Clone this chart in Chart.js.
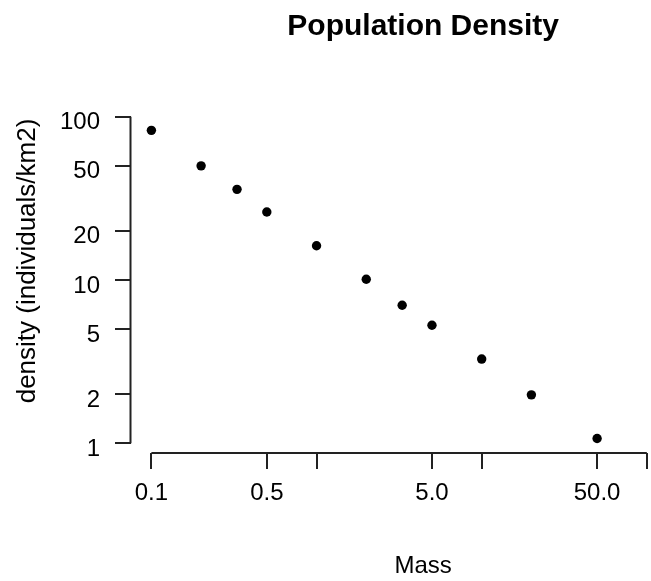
<!DOCTYPE html>
<html>
<head>
<meta charset="utf-8">
<script src="https://cdn.jsdelivr.net/npm/chart.js@4"></script>
<style>
  html, body { margin: 0; padding: 0; background: #fff; overflow: hidden; }
</style>
</head>
<body>
<canvas id="densityChart" width="720" height="581"></canvas>
<script>
// values (log-log)
let mass = [0.1, 0.2, 0.33, 0.5, 1, 2, 3.3, 5, 10, 20, 50];
let density = [82.5, 50, 35.9, 26.1, 16.2, 10.1, 7.0, 5.28, 3.28, 1.98, 1.07];

// axis ticks; only some x ticks get a label (R drops the ones that overlap)
let xTicks = [0.1, 0.5, 1, 5, 10, 50, 100];
let xTickLabels = ['0.1', '0.5', '', '5.0', '', '50.0', ''];
let yTicks = [1, 2, 5, 10, 20, 50, 100];
let yTickLabels = ['1', '2', '5', '10', '20', '50', '100'];

let points = mass.map(function(m, i) {
    return { x: m, y: density[i] };
});

// R style axes: a line only from the first to the last tick
let axisLines = {
    id: 'axisLines',
    afterDraw: function(chart) {
        let ctx = chart.ctx;
        let area = chart.chartArea;
        let x = chart.scales.x;
        let y = chart.scales.y;
        ctx.save();
        ctx.strokeStyle = '#222';
        ctx.lineWidth = 2;
        ctx.beginPath();
        ctx.moveTo(x.getPixelForValue(xTicks[0]), area.bottom);
        ctx.lineTo(x.getPixelForValue(xTicks[xTicks.length - 1]), area.bottom);
        ctx.moveTo(area.left - 0.5, y.getPixelForValue(yTicks[0]));
        ctx.lineTo(area.left - 0.5, y.getPixelForValue(yTicks[yTicks.length - 1]));
        ctx.stroke();
        ctx.restore();
    }
};

let font = "'Liberation Sans', Arial, sans-serif";

let densityChart = new Chart(document.getElementById('densityChart').getContext('2d'), {
    type: 'scatter',
    data: {
        datasets: [{
            data: points,
            backgroundColor: '#000',
            borderWidth: 0,
            pointRadius: 4.7,
            pointHoverRadius: 4.7
        }]
    },
    options: {
        responsive: false,
        animation: false,
        layout: {
            padding: { left: 0, right: 1, top: 0, bottom: 0 }
        },
        plugins: {
            legend: { display: false },
            tooltip: { enabled: false },
            title: {
                display: true,
                fullSize: false,
                text: 'Population Density',
                color: '#000',
                font: { family: font, size: 30, weight: 'bold', lineHeight: 1.2 },
                padding: { top: 9, bottom: 24 }
            }
        },
        scales: {
            x: {
                type: 'logarithmic',
                position: 'bottom',
                min: 0.07525,
                max: 259.8,
                afterBuildTicks: function(axis) {
                    axis.ticks = xTicks.map(function(v) { return { value: v }; });
                },
                afterFit: function(axis) {
                    axis.height = 128;
                },
                border: { display: false },
                grid: {
                    display: true,
                    drawOnChartArea: false,
                    drawTicks: true,
                    tickLength: 16,
                    color: '#222',
                    lineWidth: 2
                },
                ticks: {
                    autoSkip: false,
                    maxRotation: 0,
                    padding: 10,
                    color: '#000',
                    font: { family: font, size: 24 },
                    callback: function(value) {
                        let i = xTicks.indexOf(value);
                        return i >= 0 ? xTickLabels[i] : '';
                    }
                },
                title: {
                    display: true,
                    text: 'Mass',
                    color: '#000',
                    font: { family: font, size: 24, lineHeight: 1.2 },
                    padding: { top: 0, bottom: 0 }
                }
            },
            y: {
                type: 'logarithmic',
                position: 'left',
                min: 0.8722,
                max: 195.9,
                afterBuildTicks: function(axis) {
                    axis.ticks = yTicks.map(function(v) { return { value: v }; });
                },
                afterFit: function(axis) {
                    axis.width = 131;
                },
                border: { display: false },
                grid: {
                    display: true,
                    drawOnChartArea: false,
                    drawTicks: true,
                    tickLength: 16,
                    color: '#222',
                    lineWidth: 2
                },
                ticks: {
                    autoSkip: false,
                    padding: 15,
                    labelOffset: 6,
                    color: '#000',
                    font: { family: font, size: 24 },
                    callback: function(value) {
                        let i = yTicks.indexOf(value);
                        return i >= 0 ? yTickLabels[i] : '';
                    }
                },
                title: {
                    display: true,
                    text: 'density (individuals/km2)',
                    color: '#000',
                    font: { family: font, size: 26, lineHeight: 1.2 },
                    padding: { top: 12, bottom: 0 }
                }
            }
        }
    },
    plugins: [axisLines]
});
</script>
</body>
</html>
